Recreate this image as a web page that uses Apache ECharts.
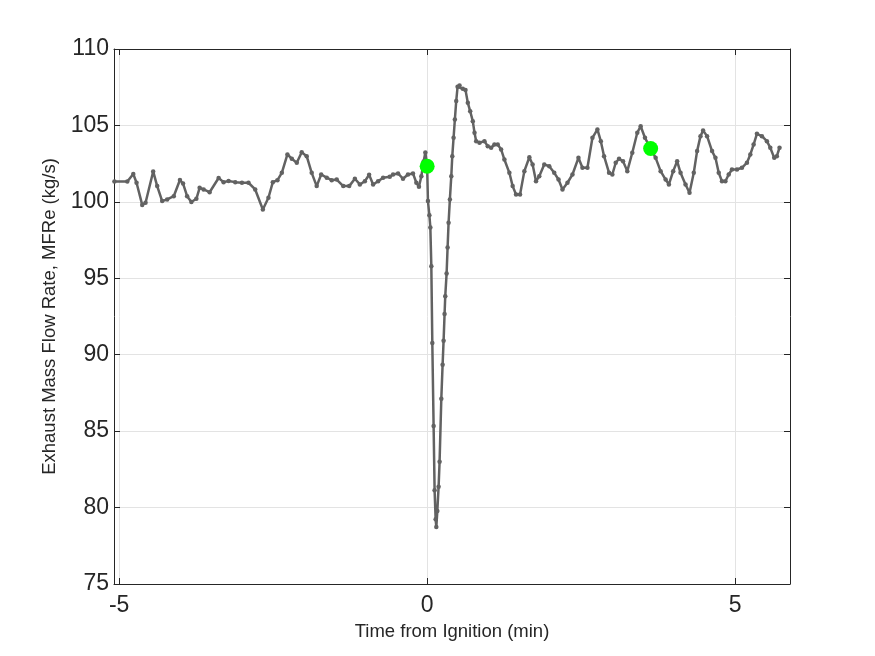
<!DOCTYPE html>
<html>
<head>
<meta charset="utf-8">
<script src="https://cdn.jsdelivr.net/npm/echarts@6/dist/echarts.min.js"></script>
<style>html,body{margin:0;padding:0;background:#fff}#c{width:875px;height:656px}</style>
</head>
<body>
<div id="c"></div>
<script>
const times = [-5.076,-4.867,-4.770,-4.717,-4.625,-4.571,-4.447,-4.382,-4.301,-4.220,-4.113,-4.013,-3.962,-3.896,-3.827,-3.746,-3.693,-3.628,-3.531,-3.385,-3.304,-3.223,-3.115,-3.006,-2.900,
-2.791,-2.667,-2.576,-2.505,-2.430,-2.359,-2.268,-2.197,-2.116,-2.036,-1.955,-1.874,-1.793,-1.720,-1.630,-1.549,-1.468,-1.362,-1.265,-1.173,-1.092,-1.011,-0.942,-0.877,-0.796,-0.715,-0.607,
-0.553,-0.472,-0.392,-0.311,-0.230,-0.175,-0.133,-0.094,-0.057,-0.029,0.000,0.013,0.036,0.052,0.068,0.084,0.105,0.121,0.138,0.149,0.165,0.186,0.202,0.230,0.251,0.267,0.283,0.294,0.316,0.332,0.348,0.369,0.392,0.408,0.429,0.450,0.472,0.494,0.526,0.579,0.623,0.660,0.699,0.741,0.769,0.796,0.850,0.930,0.984,1.039,1.092,1.146,1.201,1.254,1.335,1.388,1.443,1.508,
1.578,1.659,1.712,1.767,1.820,1.901,1.982,2.063,2.133,2.197,2.278,2.359,2.456,2.521,2.602,2.683,2.764,2.819,2.872,2.953,3.006,3.061,3.115,3.180,3.249,3.330,3.411,3.466,3.536,3.628,3.709,
3.790,3.871,3.924,3.994,4.058,4.113,4.194,4.259,4.328,4.382,4.437,4.479,4.544,4.625,4.680,4.733,4.786,4.841,4.895,4.948,5.029,5.110,5.191,5.246,5.299,5.353,5.434,5.515,5.570,5.634,5.676,5.720];
const flowRate = [101.33,101.33,101.82,101.25,99.80,99.94,101.99,101.03,100.05,100.16,100.37,101.43,101.20,100.37,99.99,100.20,100.92,100.81,100.63,101.56,101.29,101.37,101.29,101.25,101.25,
100.81,99.50,100.27,101.29,101.42,101.90,103.10,102.82,102.56,103.25,102.99,101.90,101.03,101.79,101.58,101.42,101.46,101.03,101.03,101.51,101.14,101.35,101.77,101.14,101.35,101.58,101.64,
101.79,101.86,101.51,101.79,101.86,101.25,100.99,101.68,102.64,103.23,102.33,100.05,99.13,98.33,95.78,90.76,85.33,81.13,79.23,78.73,79.77,81.37,83.00,87.12,89.35,90.92,92.66,93.83,95.32,97.02,98.63,100.16,101.68,102.99,104.19,105.39,106.59,107.53,107.61,107.40,107.31,106.48,105.93,105.28,104.52,103.97,103.87,103.97,103.64,103.54,103.75,103.75,103.43,102.77,101.90,101.03,100.48,100.48,
102.01,102.92,102.45,101.35,101.68,102.45,102.33,101.90,101.46,100.81,101.25,101.79,102.88,102.23,102.23,104.19,104.74,103.97,102.99,101.90,101.79,102.56,102.82,102.66,102.01,103.21,104.52,104.95,104.19,103.49,102.88,
102.01,101.46,101.14,102.01,102.66,101.90,101.14,100.60,101.90,103.32,104.30,104.67,104.30,103.32,102.88,101.90,101.35,101.35,101.79,102.12,102.12,102.23,102.56,103.10,103.75,104.45,104.30,103.97,103.54,102.88,102.99,103.54];
const markerTimes = [0.000, 3.628];
const markerValues = [102.33, 103.49];
const xTicks = [-5, 0, 5];
const xLabel = 'Time from Ignition (min)';
const yLabel = 'Exhaust Mass Flow Rate, MFRe (kg/s)';

const lineData = times.map((t, i) => [t, flowRate[i]]);
const markerData = markerTimes.map((t, i) => [t, markerValues[i]]);

const axisColor = '#262626';
const gridColor = '#e3e3e3';
const font = 'Liberation Sans, Arial, Helvetica, sans-serif';
const xMin = -5.083, xMax = 5.89;

const chart = echarts.init(document.getElementById('c'), null, {renderer: 'canvas'});
chart.setOption({
  animation: false,
  backgroundColor: '#ffffff',
  grid: {left: 114, top: 49, right: 85, bottom: 72, show: false},
  xAxis: [{
    type: 'value', min: xMin, max: xMax, position: 'bottom',
    name: xLabel, nameLocation: 'middle', nameGap: 38,
    nameTextStyle: {fontFamily: font, fontSize: 18.5, color: '#262626'},
    axisLine: {show: true, onZero: false, lineStyle: {color: axisColor, width: 1}},
    axisTick: {show: true, inside: true, length: 6, customValues: xTicks, lineStyle: {color: axisColor}},
    axisLabel: {customValues: xTicks, fontFamily: font, fontSize: 23, color: '#262626', margin: 10},
    splitLine: {show: true, lineStyle: {color: gridColor, width: 1}}
  }, {
    type: 'value', min: xMin, max: xMax, position: 'top',
    axisLine: {show: true, onZero: false, lineStyle: {color: axisColor, width: 1}},
    axisTick: {show: true, inside: true, length: 6, customValues: xTicks, lineStyle: {color: axisColor}},
    axisLabel: {show: false}, splitLine: {show: false}
  }],
  yAxis: [{
    type: 'value', min: 75, max: 110, interval: 5, position: 'left',
    name: yLabel, nameLocation: 'middle', nameGap: 50,
    nameTextStyle: {fontFamily: font, fontSize: 18.5, color: '#262626'},
    axisLine: {show: true, onZero: false, lineStyle: {color: axisColor, width: 1}},
    axisTick: {show: true, inside: true, length: 6, lineStyle: {color: axisColor}},
    axisLabel: {fontFamily: font, fontSize: 23, color: '#262626', margin: 5},
    splitLine: {show: true, lineStyle: {color: gridColor, width: 1}}
  }, {
    type: 'value', min: 75, max: 110, interval: 5, position: 'right',
    axisLine: {show: true, onZero: false, lineStyle: {color: axisColor, width: 1}},
    axisTick: {show: true, inside: true, length: 6, lineStyle: {color: axisColor}},
    axisLabel: {show: false}, splitLine: {show: false}
  }],
  series: [{
    type: 'line', xAxisIndex: 0, yAxisIndex: 0,
    data: lineData,
    symbol: 'circle', symbolSize: 4.5, showAllSymbol: true,
    lineStyle: {color: '#626262', width: 2.5},
    itemStyle: {color: '#626262'},
    z: 2
  }, {
    type: 'scatter', xAxisIndex: 0, yAxisIndex: 0,
    data: markerData,
    symbol: 'circle', symbolSize: 15,
    itemStyle: {color: '#00ff00', opacity: 1},
    z: 3
  }]
});
</script>
</body>
</html>
